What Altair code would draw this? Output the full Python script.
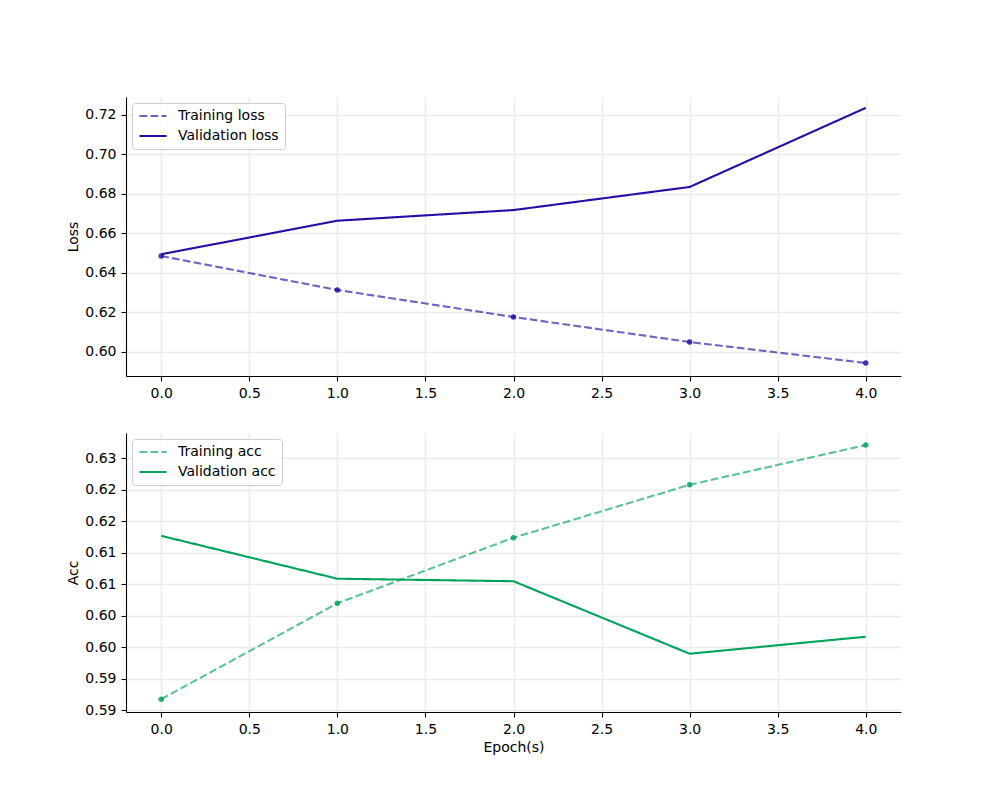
import altair as alt
import pandas as pd

epochs = [0, 1, 2, 3, 4]
train_loss = [0.6485, 0.6313, 0.6176, 0.6049, 0.5943]
val_loss = [0.6494, 0.6664, 0.6718, 0.6835, 0.7236]
train_acc = [0.5918, 0.6070, 0.6174, 0.6258, 0.6321]
val_acc = [0.6177, 0.6109, 0.6105, 0.5990, 0.6017]

x_ticks = [0.0, 0.5, 1.0, 1.5, 2.0, 2.5, 3.0, 3.5, 4.0]
loss_ticks = [0.60, 0.62, 0.64, 0.66, 0.68, 0.70, 0.72]
acc_ticks = [0.590, 0.595, 0.600, 0.605, 0.610, 0.615, 0.620, 0.625, 0.630]
acc_tick_labels = ["0.59", "0.59", "0.60", "0.60", "0.61", "0.61", "0.62", "0.62", "0.63"]

LOSS_COLOR = "#2a0aa8"
ACC_COLOR = "#00a35a"
FONT = "DejaVu Sans"


def panel(train, val, names, color, ytitle, yticks, ydomain, ylabel_expr=None, xtitle=None):
    df = pd.DataFrame({
        "epoch": epochs * 2,
        "value": train + val,
        "series": [names[0]] * len(epochs) + [names[1]] * len(epochs),
    })
    x = alt.X("epoch:Q", scale=alt.Scale(domain=[-0.2, 4.2], nice=False, zero=False),
              axis=alt.Axis(values=x_ticks, format=".1f", title=xtitle))
    yaxis_kw = dict(values=yticks, format=".2f", title=ytitle)
    if ylabel_expr:
        yaxis_kw["labelExpr"] = ylabel_expr
    y = alt.Y("value:Q", scale=alt.Scale(domain=ydomain, nice=False, zero=False),
              axis=alt.Axis(**yaxis_kw))
    legend = alt.Legend(
        title=None, orient="top-left", offset=6, padding=6,
        strokeColor="#cccccc", cornerRadius=3, fillColor="rgba(255,255,255,0.8)",
        symbolType="stroke", symbolSize=730, symbolStrokeWidth=2,
        labelFontSize=14, labelFont=FONT, labelColor="#000000", labelOffset=10,
        clipHeight=14, rowPadding=6,
    )
    lines = alt.Chart(df).mark_line(strokeWidth=2.1).encode(
        x=x, y=y,
        color=alt.Color("series:N", scale=alt.Scale(domain=names, range=[color, color]), legend=legend),
        strokeDash=alt.StrokeDash("series:N", scale=alt.Scale(domain=names, range=[[7.7, 3.3], [1, 0]]), legend=legend),
        opacity=alt.Opacity("series:N", scale=alt.Scale(domain=names, range=[0.65, 1.0]), legend=legend),
    )
    pts = alt.Chart(df[df["series"] == names[0]]).mark_circle(size=30, opacity=0.85, color=color).encode(
        x=x, y=y,
    )
    return alt.layer(lines, pts).properties(width=775, height=279)


top = panel(train_loss, val_loss, ["Training loss", "Validation loss"], LOSS_COLOR, "Loss",
            loss_ticks, [0.5877, 0.7291])
label_expr = "[" + ",".join("'%s'" % s for s in acc_tick_labels) + "][round((datum.value - %s) / 0.005)]" % acc_ticks[0]
bottom = panel(train_acc, val_acc, ["Training acc", "Validation acc"], ACC_COLOR, "Acc",
               acc_ticks, [0.58976, 0.63401], ylabel_expr=label_expr, xtitle="Epoch(s)")

chart = alt.vconcat(top, bottom, spacing=33).resolve_scale(
    color="independent", strokeDash="independent", opacity="independent",
    x="independent", y="independent",
).resolve_legend(
    color="independent", strokeDash="independent", opacity="independent",
).properties(
    padding={"left": 58, "top": 89, "right": 10, "bottom": 10},
    background="white",
).configure_view(stroke=None).configure_axis(
    labelFont=FONT, titleFont=FONT, labelFontSize=14, titleFontSize=14,
    labelColor="#000000", titleColor="#000000", titleFontWeight="normal",
    domainColor="#000000", tickColor="#000000", tickSize=5, labelPadding=5,
    gridColor="#ebebeb", gridWidth=1.5, domainWidth=1.1, tickWidth=1.1,
    titlePadding=4,
).configure_axisX(titlePadding=4)

chart.save("out.html", embed_options={"renderer": "svg", "actions": False})
